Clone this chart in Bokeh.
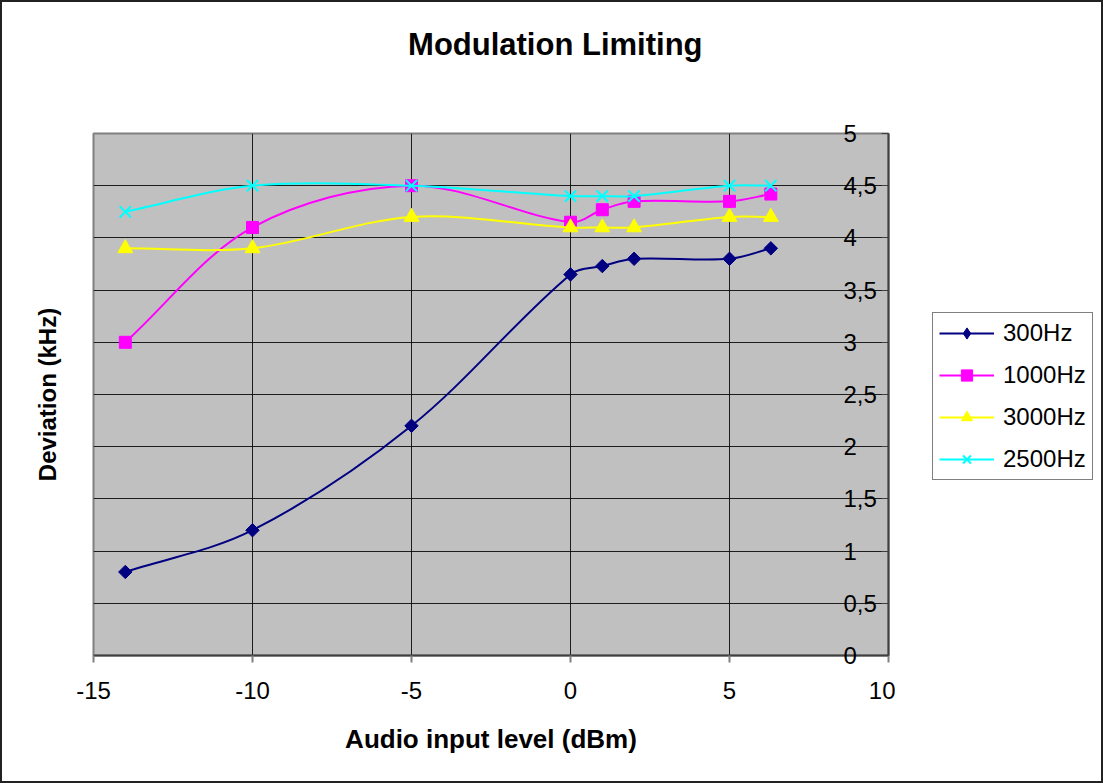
import math
from bokeh.plotting import figure
from bokeh.layouts import row
from bokeh.models import (Range1d, LinearAxis, FixedTicker, Legend, LegendItem,
                          Title, ColumnDataSource)
from bokeh.embed import file_html
from bokeh.resources import INLINE

# ---------------- data ----------------
x_level = [-14, -10, -5, 0, 1, 2, 5, 6.3]
dev_300 = [0.8, 1.2, 2.2, 3.65, 3.73, 3.8, 3.8, 3.9]
dev_1000 = [3.0, 4.1, 4.5, 4.15, 4.27, 4.35, 4.35, 4.42]
dev_3000 = [3.9, 3.9, 4.2, 4.1, 4.1, 4.1, 4.2, 4.2]
dev_2500 = [4.25, 4.5, 4.5, 4.4, 4.4, 4.4, 4.5, 4.5]

series_names = ["300Hz", "1000Hz", "3000Hz", "2500Hz"]
x_ticks = [-15, -10, -5, 0, 5, 10]
x_tick_labels = ["-15", "-10", "-5", "0", "5", "10"]
y_ticks = [0, 0.5, 1, 1.5, 2, 2.5, 3, 3.5, 4, 4.5, 5]
y_tick_labels = ["0", "0,5", "1", "1,5", "2", "2,5", "3", "3,5", "4", "4,5", "5"]

FONT = "Liberation Sans"
X_LO, X_HI = -15, 10
Y_LO, Y_HI = 0, 5

W_TOTAL, H = 1103, 783
W_MAIN = 895
ML, MR, MT, MB = 93, 7, 133, 128
FW = W_MAIN - ML - MR
FH = H - MT - MB

EDGE = "linear-gradient(#222222, #222222)"

p = figure(width=W_MAIN, height=H, output_backend="svg", toolbar_location=None,
           title=None,
           x_range=Range1d(X_LO, X_HI), y_range=Range1d(Y_LO, Y_HI),
           y_axis_location="right",
           min_border_left=ML, min_border_right=MR,
           min_border_top=MT, min_border_bottom=MB)
p.styles = {"background": (f"{EDGE} left top / 2px 100% no-repeat, "
                           f"{EDGE} left top / 100% 2px no-repeat, "
                           f"{EDGE} left bottom / 100% 2px no-repeat, #ffffff")}

p.background_fill_color = "#C0C0C0"
p.border_fill_color = None
p.outline_line_color = "#808080"
p.outline_line_width = 2

# ---- x axis ----
xa = p.xaxis[0]
xa.ticker = FixedTicker(ticks=x_ticks)
xa.major_label_overrides = dict(zip(x_ticks, x_tick_labels))
xa.axis_line_color = "#404040"
xa.axis_line_width = 2
xa.major_tick_out = 7
xa.major_tick_in = 0
xa.minor_tick_out = 0
xa.minor_tick_in = 0
xa.major_tick_line_color = "#808080"
xa.major_tick_line_width = 2
xa.major_label_text_font = FONT
xa.major_label_text_font_size = "24px"
xa.major_label_text_color = "black"
xa.major_label_standoff = 19
xa.axis_label = "Audio input level (dBm)"
xa.axis_label_text_font = FONT
xa.axis_label_text_font_style = "bold"
xa.axis_label_text_font_size = "26px"
xa.axis_label_text_color = "black"
xa.axis_label_standoff = 22

# ---- right y axis, labels drawn inside the plot area ----
ya = p.yaxis[0]
ya.ticker = FixedTicker(ticks=y_ticks)
ya.major_label_overrides = dict(zip(y_ticks, y_tick_labels))
ya.axis_line_color = "#404040"
ya.axis_line_width = 2
ya.major_tick_in = 7
ya.major_tick_out = 0
ya.minor_tick_in = 0
ya.minor_tick_out = 0
ya.major_tick_line_color = "#404040"
ya.major_label_text_font = FONT
ya.major_label_text_font_size = "24px"
ya.major_label_text_color = "black"
ya.major_label_standoff = -45
_props = LinearAxis.properties()
if "major_label_background_fill_color" in _props:
    ya.major_label_background_fill_color = "#C0C0C0"

# ---- left axis carrying only the title ----
la = LinearAxis(ticker=FixedTicker(ticks=[]), axis_line_color=None,
                major_tick_out=0, major_tick_in=0, minor_tick_out=0,
                minor_tick_in=0, major_label_standoff=0,
                axis_label="Deviation (kHz)", axis_label_text_font=FONT,
                axis_label_text_font_style="bold",
                axis_label_text_font_size="24px",
                axis_label_text_color="black", axis_label_standoff=33)
p.add_layout(la, "left")

# ---- grid ----
p.xgrid.ticker = FixedTicker(ticks=x_ticks)
p.ygrid.ticker = FixedTicker(ticks=y_ticks)
p.xgrid.grid_line_color = "#000000"
p.ygrid.grid_line_color = "#000000"
p.xgrid.grid_line_width = 1
p.ygrid.grid_line_width = 1
p.xgrid.grid_line_alpha = 0.85
p.ygrid.grid_line_alpha = 0.85

# pixel scale, used only to weight the smoothing like a spreadsheet chart
KX = FW / (X_HI - X_LO)
KY = FH / (Y_HI - Y_LO)


def smooth(xs, ys):
    n = len(xs)

    def d(i, j):
        return math.hypot((xs[j] - xs[i]) * KX, (ys[j] - ys[i]) * KY)

    out = dict(x0=[], y0=[], x1=[], y1=[], cx0=[], cy0=[], cx1=[], cy1=[])
    for i in range(n - 1):
        im = i - 1 if i > 0 else i
        ip = i + 2 if i + 2 < n else i + 1
        d_prev = d(im, i)
        d_cur = d(i, i + 1)
        d_next = d(i + 1, ip)
        f0 = d_cur / (d_prev + d_cur) / 3 if d_prev + d_cur > 0 else 0
        f1 = d_cur / (d_cur + d_next) / 3 if d_cur + d_next > 0 else 0
        t0x, t0y = xs[i + 1] - xs[im], ys[i + 1] - ys[im]
        t1x, t1y = xs[ip] - xs[i], ys[ip] - ys[i]
        out["x0"].append(xs[i]); out["y0"].append(ys[i])
        out["x1"].append(xs[i + 1]); out["y1"].append(ys[i + 1])
        out["cx0"].append(xs[i] + t0x * f0)
        out["cy0"].append(ys[i] + t0y * f0)
        out["cx1"].append(xs[i + 1] - t1x * f1)
        out["cy1"].append(ys[i + 1] - t1y * f1)
    return out


styles = [
    (dev_300, "#000080", "square", 9.5, math.pi / 4, "diamond"),
    (dev_1000, "#FF00FF", "square", 12, 0, "square"),
    (dev_3000, "#FFFF00", "triangle", 15, 0, "triangle"),
    (dev_2500, "#00FFFF", "x", 16, 0, "x"),
]

# ---- legend panel: a second figure to the right ----
p2 = figure(width=W_TOTAL - W_MAIN, height=H, output_backend="svg",
            toolbar_location=None, x_axis_type=None, y_axis_type=None,
            x_range=Range1d(100, 101), y_range=Range1d(100, 101),
            min_border=0)
p2.styles = {"background": (f"{EDGE} right top / 2px 100% no-repeat, "
                            f"{EDGE} left top / 100% 2px no-repeat, "
                            f"{EDGE} left bottom / 100% 2px no-repeat, #ffffff")}
p2.outline_line_color = None
p2.background_fill_color = None
p2.border_fill_color = None

items = []
for name, (ys, col, marker, size, ang, lmarker) in zip(series_names, styles):
    p.bezier(source=ColumnDataSource(smooth(x_level, ys)),
             x0="x0", y0="y0", x1="x1", y1="y1",
             cx0="cx0", cy0="cy0", cx1="cx1", cy1="cy1",
             line_color=col, line_width=2)
    if marker == "x":
        p.scatter(x_level, ys, marker=marker, size=size, line_color=col,
                  line_width=2)
    else:
        p.scatter(x_level, ys, marker=marker, size=size, angle=ang,
                  fill_color=col, line_color=col, line_width=1)
    # legend proxies (outside the visible range of the legend panel)
    ln = p2.line(x_level, ys, line_color=col, line_width=2)
    if lmarker == "x":
        sc = p2.scatter(x_level, ys, marker=lmarker, line_color=col,
                        line_width=2)
    else:
        sc = p2.scatter(x_level, ys, marker=lmarker, fill_color=col,
                        line_color=col)
    items.append(LegendItem(label=name, renderers=[ln, sc]))

legend = Legend(items=items, location=(37, 175),
                glyph_width=55, glyph_height=28, label_height=28,
                label_standoff=9, spacing=14, padding=6, margin=0,
                border_line_color="black", border_line_width=1,
                background_fill_color="white", background_fill_alpha=1,
                label_text_font=FONT, label_text_font_size="24px",
                label_text_color="black")
p2.add_layout(legend, "center")

# ---- titles: spacer (inner) then the chart title (outer) ----
spacer = Title(text=" ", text_font_size="12px", standoff=54,
               vertical_align="top")
p.add_layout(spacer, "above")
title = Title(text="Modulation Limiting", align="right", offset=186,
              vertical_align="top", standoff=0, text_font=FONT,
              text_font_style="bold", text_font_size="31px",
              text_color="black")
p.add_layout(title, "above")

layout = row(p, p2, spacing=0, width=W_TOTAL, height=H)

open("out.html", "w").write(file_html(layout, INLINE))
